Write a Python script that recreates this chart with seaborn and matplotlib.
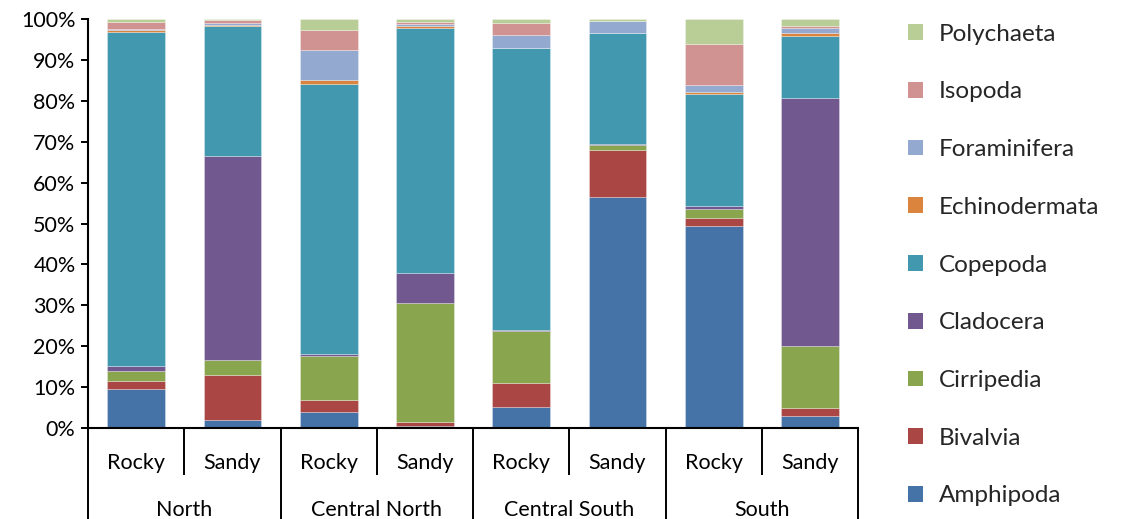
import numpy as np
import pandas as pd
import matplotlib
matplotlib.use("Agg")
import matplotlib.pyplot as plt
import matplotlib.transforms as mtransforms
import seaborn as sns

# Sampling sites: habitat within region
regions = ["North", "Central North", "Central South", "South"]
habitats = ["Rocky", "Sandy"]
sites = [f"{r} {h}" for r in regions for h in habitats]

# Relative abundance (%) of each taxon per site, bottom to top of each stack
amphipoda     = [9.5,  2.0,  3.9,  0.4,  5.1, 56.5, 49.5,  2.9]
bivalvia      = [2.0, 11.0,  3.0,  1.0,  5.8, 11.5,  1.9,  2.1]
cirripedia    = [2.5,  3.6, 10.6, 29.2, 12.7,  1.2,  2.1, 15.1]
cladocera     = [1.2, 50.0,  0.5,  7.2,  0.3,  0.2,  0.9, 60.7]
copepoda      = [81.7, 31.8, 66.2, 60.0, 69.0, 27.1, 27.3, 15.1]
echinodermata = [0.5,  0.1,  1.0,  0.5,  0.0,  0.0,  0.5,  0.6]
foraminifera  = [0.2,  0.5,  7.2,  0.5,  3.1,  2.9,  1.6,  1.4]
isopoda       = [1.7,  0.8,  4.9,  0.5,  2.9,  0.1, 10.1,  0.5]
polychaeta    = [0.7,  0.2,  2.7,  0.7,  1.1,  0.5,  6.1,  1.6]

taxa = ["Amphipoda", "Bivalvia", "Cirripedia", "Cladocera", "Copepoda",
        "Echinodermata", "Foraminifera", "Isopoda", "Polychaeta"]
values = [amphipoda, bivalvia, cirripedia, cladocera, copepoda,
          echinodermata, foraminifera, isopoda, polychaeta]
colors = ["#4572A7", "#AA4643", "#89A54E", "#71588F", "#4198AF",
          "#DB843D", "#93A9CF", "#D19392", "#B9CD96"]

y_ticks = list(range(0, 101, 10))

sns.set_theme(style="white")
plt.rcParams["font.family"] = ["Lato", "DejaVu Sans"]
FS = 15.5
LEG_FS = 17.5

fig = plt.figure(figsize=(11.37, 5.19), dpi=100)
ax = fig.add_axes([88 / 1137, 91 / 519, 770 / 1137, 409 / 519])

df = pd.DataFrame({"site": sites})
bottom = np.zeros(len(sites))
handles = []
for name, vals, col in zip(taxa, values, colors):
    df[name] = vals
    sns.barplot(data=df, x="site", y=name, order=sites, color=col,
                saturation=1, width=0.6, bottom=bottom,
                edgecolor=(1, 1, 1, 0.35), linewidth=0.6, ax=ax)
    bottom = bottom + np.asarray(vals)
    handles.append(plt.Rectangle((0, 0), 1, 1, facecolor=col, edgecolor="none"))

ax.set_xlim(-0.5, len(sites) - 0.5)
ax.set_ylim(0, 100)
ax.set_xlabel("")
ax.set_ylabel("")
ax.set_yticks(y_ticks)
ax.set_yticklabels([f"{t}%" for t in y_ticks], fontsize=FS, color="black")
ax.tick_params(axis="y", which="major", left=True, length=5, width=1.4,
               color="black", pad=4)

for side in ["top", "right"]:
    ax.spines[side].set_visible(False)
for side in ["left", "bottom"]:
    ax.spines[side].set_color("black")
    ax.spines[side].set_linewidth(1.5)

# Hierarchical category axis: long ticks between regions, short between habitats
ax.set_xticks(np.arange(-0.5, len(sites), 2.0))
ax.set_xticks(np.arange(0.5, len(sites), 2.0), minor=True)
ax.set_xticklabels([])
ax.tick_params(axis="x", which="major", bottom=True, length=66, width=1.4,
               color="black", direction="out")
ax.tick_params(axis="x", which="minor", bottom=True, length=34, width=1.4,
               color="black", direction="out")

trans = mtransforms.blended_transform_factory(ax.transData, ax.transAxes)
for i, s in enumerate(sites):
    ax.text(i, -0.085, habitats[i % 2], transform=trans, ha="center",
            va="center", fontsize=FS, color="black")
for j, r in enumerate(regions):
    ax.text(2 * j + 0.5, -0.2, r, transform=trans, ha="center",
            va="center", fontsize=FS, color="black")

leg = fig.legend(handles[::-1], taxa[::-1], loc="upper left",
                 bbox_to_anchor=(898 / 1137, 1 - 14 / 519), frameon=False,
                 fontsize=LEG_FS, handlelength=0.62, handleheight=0.62,
                 handletextpad=0.66, labelspacing=1.51, borderaxespad=0)

fig.savefig("out.png", dpi=100)
